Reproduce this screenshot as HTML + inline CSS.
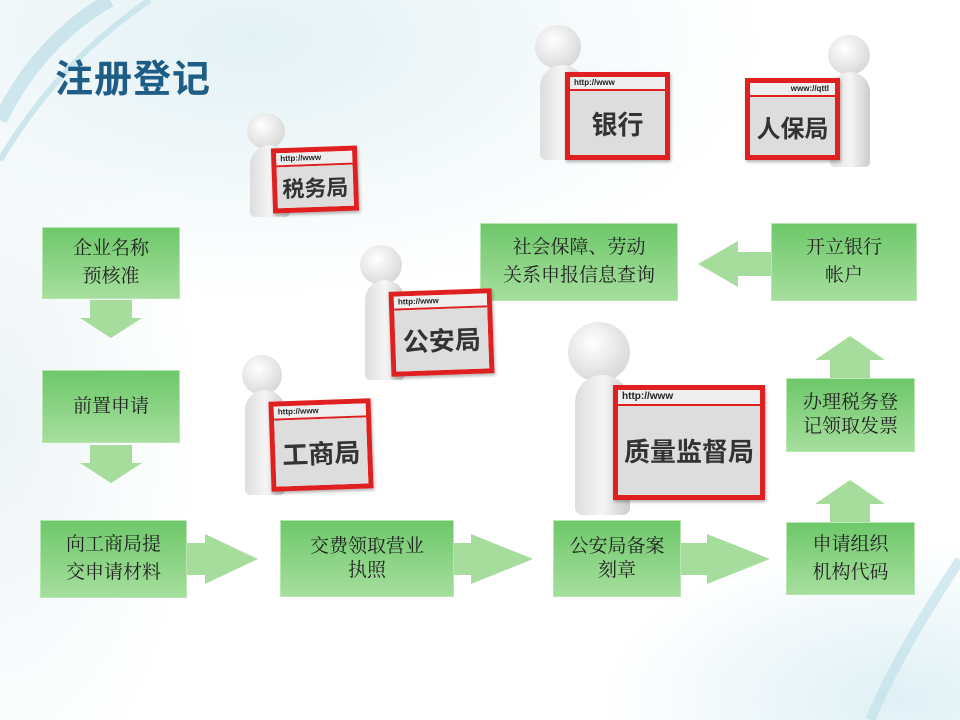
<!DOCTYPE html>
<html><head><meta charset="utf-8"><style>
body{margin:0;width:960px;height:720px;overflow:hidden;position:relative;font-family:"Liberation Serif","Noto Serif CJK SC",serif;background:#fff}
.bg{position:absolute;inset:0;background:radial-gradient(ellipse 520px 260px at 250px 40px,#e3f1f5 0%,#f2f8fa 50%,rgba(255,255,255,0) 100%),radial-gradient(ellipse 200px 400px at 0px 420px,#eef4f6,rgba(255,255,255,0)),radial-gradient(ellipse 300px 160px at 900px 700px,#dff0f5,rgba(255,255,255,0))}
.box{position:absolute;background:linear-gradient(#6ec86a,#a6de9e);border:1px solid #b8e6b0;box-sizing:border-box;display:flex;align-items:center;justify-content:center;text-align:center;font-size:19px;line-height:28px;color:#222}
.t{position:absolute;left:55px;top:48px;font:bold 38px "Liberation Sans","Noto Sans CJK SC",sans-serif;color:#1d5d86;letter-spacing:1px}
.sign{position:absolute;background:#fff;border:5px solid #e02020;box-sizing:border-box;box-shadow:1px 2px 3px rgba(0,0,0,.3)}
.sign .u{position:absolute;left:0;right:0;top:0;height:12px;background:#eee;border-bottom:2px solid #e02020;font:bold 8px "Liberation Sans",sans-serif;padding-left:4px;line-height:12px;color:#222}
.sign .l{position:absolute;left:0;right:0;top:14px;bottom:0;background:#ddd;display:flex;align-items:center;justify-content:center;font:bold 26px "Liberation Sans","Noto Sans CJK SC",sans-serif;color:#333}
.head{position:absolute;border-radius:50%;background:radial-gradient(circle at 40% 35%,#fff,#ccc)}
.body{position:absolute;border-radius:30px 30px 8px 8px;background:linear-gradient(90deg,#ddd,#f5f5f5,#ccc)}
</style></head><body>
<div class="bg"></div>
<svg width="960" height="720" style="position:absolute;left:0;top:0">
<path d="M0 120 Q40 40 110 0" stroke="#a9d3e0" stroke-width="14" fill="none" opacity=".5"/>
<path d="M0 160 Q60 60 150 0" stroke="#cde6ee" stroke-width="6" fill="none"/>
<path d="M960 560 Q900 650 870 720" stroke="#bcdde8" stroke-width="10" fill="none" opacity=".6"/>
<g fill="#a6dc9c">
<path d="M90 300h42v18h10l-31 20-31-20h10z"/>
<path d="M90 445h42v18h10l-31 20-31-20h10z"/>
<path d="M187 543h18v-9l53 25-53 25v-9h-18z"/>
<path d="M453 543h18v-9l62 25-62 25v-9h-18z"/>
<path d="M681 543h26v-9l63 25-63 25v-9h-26z"/>
<path d="M830 522v-18h-15l35-24 35 24h-15v18z"/>
<path d="M830 378v-18h-15l35-24 35 24h-15v18z"/>
<path d="M771 252h-33v-11l-40 23 40 23v-11h33z"/>
</g>
</svg>
<div class="t">注册登记</div>
<div class="box" style="left:42px;top:227px;width:138px;height:72px">企业名称<br>预核准</div>
<div class="box" style="left:42px;top:370px;width:138px;height:73px">前置申请</div>
<div class="box" style="left:40px;top:520px;width:147px;height:78px">向工商局提<br>交申请材料</div>
<div class="box" style="left:280px;top:520px;width:174px;height:77px;line-height:24px">交费领取营业<br>执照</div>
<div class="box" style="left:553px;top:520px;width:128px;height:77px;line-height:24px">公安局备案<br>刻章</div>
<div class="box" style="left:786px;top:522px;width:129px;height:73px">申请组织<br>机构代码</div>
<div class="box" style="left:786px;top:378px;width:129px;height:74px;line-height:24px">办理税务登<br>记领取发票</div>
<div class="box" style="left:771px;top:223px;width:146px;height:78px">开立银行<br>帐户</div>
<div class="box" style="left:480px;top:223px;width:198px;height:78px">社会保障、劳动<br>关系申报信息查询</div>

<!-- figures -->
<div class="head" style="left:247px;top:113px;width:38px;height:36px"></div><div class="body" style="left:250px;top:145px;width:40px;height:72px"></div>
<div class="sign" style="left:272px;top:147px;width:86px;height:65px;transform:rotate(-2deg)"><div class="u">http://www</div><div class="l" style="font-size:22px">税务局</div></div>

<div class="head" style="left:535px;top:25px;width:46px;height:44px"></div><div class="body" style="left:540px;top:65px;width:45px;height:95px"></div>
<div class="sign" style="left:565px;top:72px;width:105px;height:88px"><div class="u">http://www</div><div class="l">银行</div></div>

<div class="head" style="left:828px;top:35px;width:42px;height:40px"></div><div class="body" style="left:830px;top:72px;width:40px;height:95px"></div>
<div class="sign" style="left:745px;top:78px;width:95px;height:82px"><div class="u" style="text-align:right;padding-right:6px">www://qttl</div><div class="l" style="font-size:24px">人保局</div></div>

<div class="head" style="left:360px;top:245px;width:42px;height:40px"></div><div class="body" style="left:365px;top:280px;width:40px;height:100px"></div>
<div class="sign" style="left:390px;top:290px;width:103px;height:85px;transform:rotate(-2deg)"><div class="u">http://www</div><div class="l">公安局</div></div>

<div class="head" style="left:242px;top:355px;width:40px;height:40px"></div><div class="body" style="left:245px;top:390px;width:40px;height:105px"></div>
<div class="sign" style="left:270px;top:400px;width:102px;height:90px;transform:rotate(-2deg)"><div class="u">http://www</div><div class="l">工商局</div></div>

<div class="head" style="left:568px;top:322px;width:62px;height:60px"></div><div class="body" style="left:575px;top:375px;width:55px;height:140px"></div>
<div class="sign" style="left:613px;top:385px;width:152px;height:115px"><div class="u" style="height:14px;font-size:10px;line-height:14px">http://www</div><div class="l" style="top:16px">质量监督局</div></div>
</body></html>
